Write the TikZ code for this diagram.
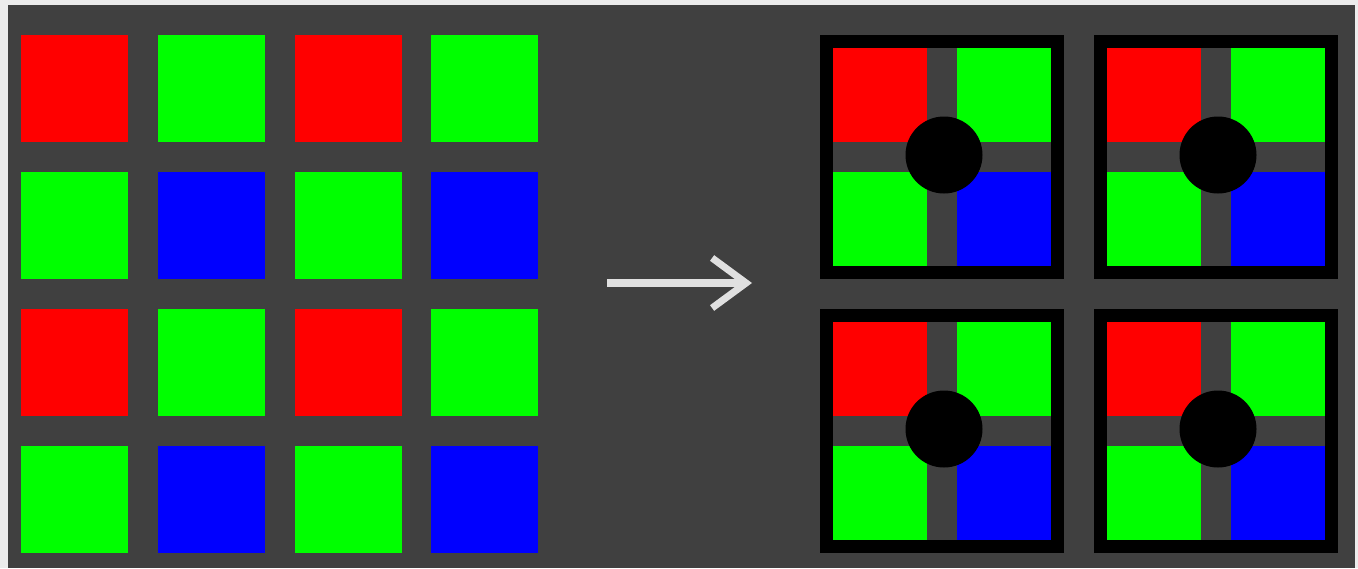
\documentclass[tikz,border=0pt]{standalone}
\usetikzlibrary{arrows.meta}
\definecolor{bgdark}{HTML}{404040}
\definecolor{bglight}{HTML}{ECECEC}
\definecolor{pr}{HTML}{FF0000}
\definecolor{pg}{HTML}{00FF00}
\definecolor{pb}{HTML}{0000FF}
\definecolor{arrowcol}{HTML}{E0E0E0}
\tikzset{
  px/.style={draw=none, inner sep=0pt, outer sep=0pt, minimum size=107pt, rectangle},
  quad/.style={draw=none, inner sep=0pt, outer sep=0pt, minimum size=94pt, rectangle},
  tileframe/.style={draw=none, fill=black, inner sep=0pt, outer sep=0pt, minimum size=244pt, rectangle},
  tileinner/.style={draw=none, fill=bgdark, inner sep=0pt, outer sep=0pt, minimum size=218pt, rectangle},
  dot/.style={draw=none, fill=black, circle, inner sep=0pt, minimum size=77pt},
  bigarrow/.style={draw=arrowcol, line width=8pt, -{Straight Barb[length=34pt, width=50pt, line width=7pt]}}
}
\begin{document}
\begin{tikzpicture}[x=1pt, y=-1pt]
  \useasboundingbox (0,0) rectangle (1358,568);
  \fill[bglight] (0,0) rectangle (1358,568);
  \fill[bgdark] (8,5) rectangle (1355,568);
  % Bayer grid
  \foreach \r/\ca/\cb in {0/pr/pg, 1/pg/pb, 2/pr/pg, 3/pg/pb}{
    \foreach \c/\cx in {0/74.5, 1/211.5, 2/348, 3/484.5}{
      \pgfmathtruncatemacro{\odd}{mod(\c,2)}
      \ifnum\odd=0 \def\col{\ca}\else\def\col{\cb}\fi
      \node[px, fill=\col] (sq-\r-\c) at (\cx,{88.5+137*\r}) {};
    }
  }
  % arrow
  \coordinate (arrS) at (607,283);
  \coordinate (arrE) at (752,283);
  \draw[bigarrow] (arrS) -- (arrE);
  % tiles
  \foreach \t/\tx/\ty in {a/942/157, b/1216/157, c/942/431, d/1216/431}{
    \node[tileframe] (tile-\t) at (\tx,\ty) {};
    \node[tileinner] (in-\t) at (\tx,\ty) {};
    \node[quad, fill=pr] (q-\t-1) at (\tx-62,\ty-62) {};
    \node[quad, fill=pg] (q-\t-2) at (\tx+62,\ty-62) {};
    \node[quad, fill=pg] (q-\t-3) at (\tx-62,\ty+62) {};
    \node[quad, fill=pb] (q-\t-4) at (\tx+62,\ty+62) {};
    \node[dot] (dot-\t) at (\tx+2,\ty-2) {};
  }
\end{tikzpicture}
\end{document}
